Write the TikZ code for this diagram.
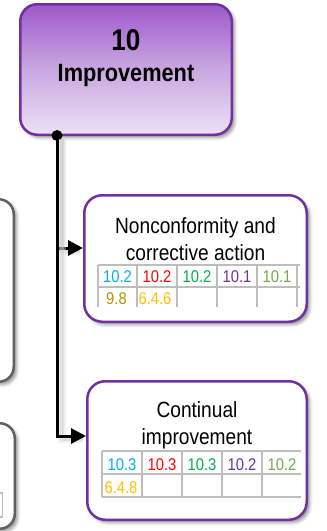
\documentclass[tikz,border=0pt]{standalone}
\usepackage{fontspec}
\setmainfont{Liberation Sans}[FakeStretch=0.87]
\usetikzlibrary{arrows.meta,shadows.blur}

\definecolor{bordpurple}{HTML}{7030A0}
\definecolor{gradtop}{HTML}{9D58CA}
\definecolor{gradmid}{HTML}{C9A8E2}
\definecolor{gradbot}{HTML}{ECE0F5}
\definecolor{ccyan}{HTML}{00B0F0}
\definecolor{cred}{HTML}{FF0000}
\definecolor{cgreen}{HTML}{00B050}
\definecolor{cpurple}{HTML}{7030A0}
\definecolor{clgreen}{HTML}{70AD47}
\definecolor{cgold}{HTML}{BF9000}
\definecolor{cyellow}{HTML}{FFC000}
\definecolor{gridgray}{HTML}{BDBDBD}
\definecolor{sidegray}{HTML}{606060}

\tikzset{
  softshadow/.style={blur shadow={shadow xshift=3pt, shadow yshift=-3pt,
      shadow blur radius=3pt, shadow opacity=40}},
  mainbox/.style={draw=bordpurple, line width=2.5pt, rounded corners=17pt,
      top color=gradtop, bottom color=gradbot, middle color=gradmid,
      minimum width=211.5pt, minimum height=130.5pt, softshadow},
  subbox/.style={draw=bordpurple, line width=2.5pt, rounded corners=18pt,
      fill=white, softshadow},
  sidebox/.style={draw=sidegray, line width=2.5pt, rounded corners=15pt,
      fill=white, softshadow},
  titletext/.style={font=\fontsize{22}{27}\selectfont, align=center, inner sep=0pt},
  celltext/.style={font=\fontsize{17}{20}\selectfont, inner sep=0pt, anchor=base},
  gridline/.style={draw=gridgray, line width=2pt},
  conn/.style={line width=3pt, -{Triangle[length=15pt,width=15pt]},
      preaction={draw=black!12, opacity=0.45, line width=8pt, shorten >=8pt,
        transform canvas={xshift=5pt, yshift=-3pt}, -},
      preaction={draw=black!22, opacity=0.4, line width=4pt, shorten >=8pt,
        transform canvas={xshift=4.5pt, yshift=-3pt}, -}},
}

\begin{document}
\begin{tikzpicture}[x=1pt,y=1pt]
\useasboundingbox (0,0) rectangle (327,-531);
\clip (0,0) rectangle (327,-531);

% neighbouring column, cut off at the left edge
\node[sidebox, minimum width=112.5pt, minimum height=182.5pt] (sideA) at (-42.5,-290.5) {};
\node[sidebox, minimum width=113.5pt, minimum height=105.5pt] (sideB) at (-42,-476) {};
\draw[gridline, line width=1.5pt] (-10,-493) rectangle (2.5,-517);

% clause heading
\node[mainbox] (top) at (126,-69.5) {};
\node[font=\bfseries\fontsize{30}{34}\selectfont, inner sep=0pt, anchor=base] (tnum) at (126,-50) {10};
\node[font=\bfseries\fontsize{25}{30}\selectfont, inner sep=0pt, anchor=base] (tname) at (126,-81.7) {Improvement};

% sub-clauses
\node[subbox, minimum width=222.5pt, minimum height=126.5pt] (b2) at (195.5,-258.5) {};
\node[titletext] (b2t) at (195.5,-238.8) {Nonconformity and\\corrective action};

\node[subbox, minimum width=219.5pt, minimum height=138.5pt] (b3) at (197,-450.5) {};
\node[titletext] (b3t) at (197,-425.3) {Continual\\improvement};

% reference table of the first sub-clause
\foreach \yy in {-265,-287} \draw[gridline] (98,\yy) -- (300,\yy);
\foreach \xx in {98,137,177,217,257,297} \draw[gridline] (\xx,-265) -- (\xx,-307);
\node[celltext, text=ccyan]   (c21) at (117.5,-282.7) {10.2};
\node[celltext, text=cred]    (c22) at (157,-282.7) {10.2};
\node[celltext, text=cgreen]  (c23) at (197,-282.7) {10.2};
\node[celltext, text=cpurple] (c24) at (237,-282.7) {10.1};
\node[celltext, text=clgreen] (c25) at (277,-282.7) {10.1};
\node[celltext, text=cgold]   (c26) at (116.5,-304.5) {9.8};
\node[celltext, text=cyellow] (c27) at (155,-304.5) {6.4.6};

% reference table of the second sub-clause
\foreach \yy in {-451,-474,-497} \draw[gridline] (102,\yy) -- (301,\yy);
\foreach \xx in {102,142,182,222,262} \draw[gridline] (\xx,-451) -- (\xx,-497);
\node[celltext, text=ccyan]   (c31) at (122,-470) {10.3};
\node[celltext, text=cred]    (c32) at (162,-470) {10.3};
\node[celltext, text=cgreen]  (c33) at (202,-470) {10.3};
\node[celltext, text=cpurple] (c34) at (242,-470) {10.2};
\node[celltext, text=clgreen] (c35) at (282,-470) {10.2};
\node[celltext, text=cyellow] (c36) at (121,-493.3) {6.4.8};

% connectors
\node[circle, fill=black, inner sep=0pt, minimum size=11pt] (dot) at (57,-135.5) {};
\draw[conn] (dot.center) |- ([yshift=10.5pt]b2.west);
\draw[conn] (dot.center) |- ([yshift=14.5pt]b3.west);
\end{tikzpicture}
\end{document}
